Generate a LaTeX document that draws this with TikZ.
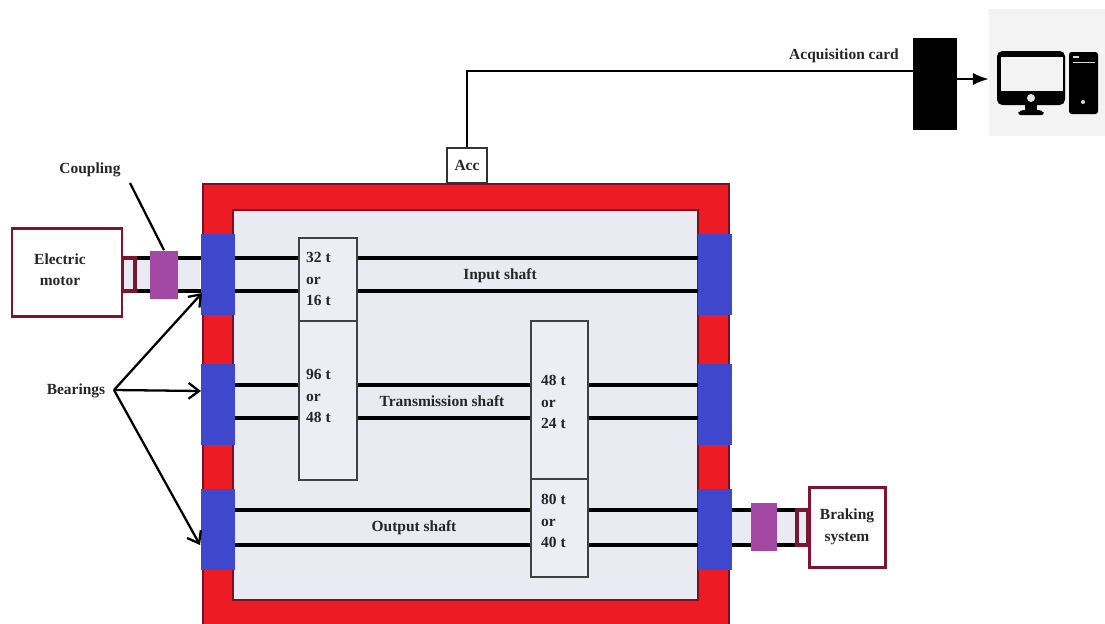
\documentclass[tikz,border=0pt]{standalone}
\usepackage{fontspec}
\setmainfont{Liberation Serif}
\usetikzlibrary{arrows.meta, positioning}
\definecolor{frameRed}{HTML}{ED1C24}
\definecolor{frameDark}{HTML}{7A1020}
\definecolor{insideGray}{HTML}{E9EAF2}
\definecolor{bearingBlue}{HTML}{3F48CC}
\definecolor{couplingPurple}{HTML}{A349A4}
\definecolor{motorRed}{HTML}{7B1530}
\definecolor{pcGray}{HTML}{F3F3F3}

\begin{document}
\begin{tikzpicture}[x=0.02cm, y=-0.02cm,
    every node/.style={font=\bfseries\fontsize{8.8}{12.2}\selectfont, text=black!85},
    block/.style 2 args={minimum width=#1*0.02cm, minimum height=#2*0.02cm, inner sep=0pt},
    bearing/.style={block={34}{81}, fill=bearingBlue},
    coupling/.style={block={#1}{48}, fill=couplingPurple},
    gear/.style 2 args={block={#1}{#2}, draw=black!75, line width=0.7pt, fill=insideGray!80},
    geartext/.style={align=left, anchor=west},
    machine/.style 2 args={block={#1}{#2}, draw=motorRed, line width=1.7pt, fill=white, align=center},
    joint/.style={draw=motorRed, fill=insideGray, line width=2pt},
    shaft/.style={line width=2.7pt, black},
    pointer/.style={-{Straight Barb[length=6pt, width=9pt]}, line width=1.3pt, black}]
    \useasboundingbox (0,0) rectangle (1105,623);

    % Housing
    \draw[fill=frameRed, draw=frameDark, line width=1pt] (203,184) rectangle (729,630);
    \draw[fill=insideGray, draw=frameDark, line width=1pt] (233,210) rectangle (698,600);

    % Gaps beside the housing
    \fill[insideGray] (135,258) rectangle (200,291);
    \fill[insideGray] (731,510) rectangle (800,545);

    % Shafts
    \coordinate (inA) at (135,258);
    \coordinate (inB) at (135,291);
    \coordinate (inAend) at (698,258);
    \coordinate (inBend) at (698,291);
    \coordinate (midA) at (235,385);
    \coordinate (midB) at (235,418);
    \coordinate (midAend) at (698,385);
    \coordinate (midBend) at (698,418);
    \coordinate (outA) at (235,510);
    \coordinate (outB) at (235,545);
    \coordinate (outAend) at (800,510);
    \coordinate (outBend) at (800,545);
    \foreach \a/\b in {inA/inAend, inB/inBend, midA/midAend, midB/midBend, outA/outAend, outB/outBend}
        \draw[shaft] (\a) -- (\b);

    % Bearings
    \node[bearing] (bearingA) at (217.5,274.5) {};
    \node[bearing] (bearingB) at (217.5,404) {};
    \node[bearing] (bearingC) at (217.5,529.5) {};
    \node[bearing] (bearingD) at (714.5,274.5) {};
    \node[bearing] (bearingE) at (714.5,404) {};
    \node[bearing] (bearingF) at (714.5,529.5) {};

    % Motor side
    \draw[joint] (122,258) rectangle (135,291);
    \node[machine={110}{88}] (motor) at (67,272) {};
    \node[align=center] (motorName) at (60,269.5) {Electric\\motor};
    \node[coupling=28] (couplingIn) at (164,274.5) {};

    % Brake side
    \draw[joint] (797,510) rectangle (808,545);
    \node[machine={76}{80}] (brake) at (847,527) {Braking\\system};
    \node[coupling=26] (couplingOut) at (764,526.5) {};

    % Gears
    \node[gear={58}{83}] (gearA) at (328,279.5) {};
    \node[gear={58}{159}] (gearB) at (328,400.5) {};
    \node[gear={57}{158}] (gearC) at (559.5,400) {};
    \node[gear={57}{98}] (gearD) at (559.5,528) {};
    \node[geartext] (gearAtext) at (300,279) {32 t\\or\\16 t};
    \node[geartext] (gearBtext) at (300,396) {96 t\\or\\48 t};
    \node[geartext] (gearCtext) at (535,402) {48 t\\or\\24 t};
    \node[geartext] (gearDtext) at (535,521) {80 t\\or\\40 t};

    % Shaft names
    \node (inputName) at (500,275.5) {Input shaft};
    \node (transName) at (442,401.5) {Transmission shaft};
    \node (outputName) at (414,527.5) {Output shaft};

    % Labels with pointers
    \node (couplingName) at (90,169.5) {Coupling};
    \coordinate (couplingFrom) at (130,183);
    \draw[line width=1.3pt] (couplingFrom) -- (couplingIn.north);
    \node (bearingsName) at (76,390.5) {Bearings};
    \coordinate (bearingsFrom) at (114,390);
    \coordinate (toBearingA) at (202,293);
    \coordinate (toBearingB) at (201,391);
    \coordinate (toBearingC) at (200,545);
    \foreach \t in {toBearingA, toBearingB, toBearingC}
        \draw[pointer] (bearingsFrom) -- (\t);

    % Acquisition
    \node[draw=black!80, fill=white, line width=0.7pt, minimum width=40*0.02cm, minimum height=35*0.02cm, inner sep=0pt] (acc) at (467,165.5) {Acc};
    \node[fill=black, minimum width=44*0.02cm, minimum height=92*0.02cm, inner sep=0pt] (card) at (935,84) {};
    \draw[line width=1pt, black] (acc.north) |- (card.west |- 0,71);
    \node (cardName) at (844,55.5) {Acquisition card};

    % Computer
    \node[fill=pcGray, minimum width=116*0.02cm, minimum height=127*0.02cm, inner sep=0pt] (pc) at (1047,72.5) {};
    \draw[-{Latex[length=9pt, width=7pt]}, line width=1pt, black] (card.east |- 0,79) -- (pc.west |- 0,79);
    \fill[black, rounded corners=3pt] (997,51) rectangle (1065,105);
    \fill[pcGray] (1001,57) rectangle (1063,91);
    \fill[black] (1025,104) rectangle (1037,111);
    \fill[black, rounded corners=2pt] (1017,115) -- (1020,110) -- (1042,110) -- (1045,115) -- cycle;
    \fill[white!90!black] (1031,98) circle (4);
    \fill[black, rounded corners=1.5pt] (1069,52) rectangle (1098,114);
    \fill[white!85!black] (1073,61.5) rectangle (1095,63);
    \fill[white!85!black] (1073,56) rectangle (1079,58);
    \fill[white!85!black] (1083,102) circle (2);
\end{tikzpicture}
\end{document}
